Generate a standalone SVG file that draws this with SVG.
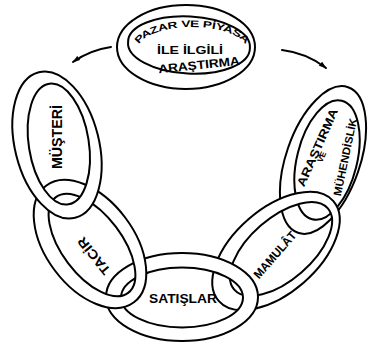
<svg xmlns="http://www.w3.org/2000/svg" width="368" height="343" viewBox="0 0 368 343">
<style>
.ring{fill:#fff;fill-rule:evenodd;stroke:#000;stroke-width:2;stroke-linejoin:round}
.arr{fill:none;stroke:#000;stroke-width:2;stroke-linecap:round}
text{font-family:"Liberation Sans",Arial,sans-serif;font-weight:bold;fill:#000;dominant-baseline:central;text-anchor:middle}
</style>
<defs>
<marker id="ah" markerUnits="userSpaceOnUse" markerWidth="9" markerHeight="6" refX="7" refY="3" orient="auto">
<path d="M0,0.5 L8,3 L0,5.5 Z" fill="#000"/>
</marker>
<path id="arcTop" d="M134,48 A58,25 0 0 1 250,48"/>
</defs>
<g id="connectors">
<path class="arr" d="M111,47 Q90,50 73,62" marker-end="url(#ah)"/>
<path class="arr" d="M282,50 Q307,53 326,68" marker-end="url(#ah)"/>
</g>
<g id="pazar">
<path class="ring" d="M117,47 A69,42 0 1 0 255,47 A69,42 0 1 0 117,47 Z M128.1,41.8 A61,28 3 1 0 249.9,48.2 A61,28 3 1 0 128.1,41.8 Z"/>
<text font-size="9.5"><textPath href="#arcTop" startOffset="50%" textLength="122" lengthAdjust="spacingAndGlyphs">PAZAR VE PİYASA</textPath></text>
<text x="190" y="50" font-size="10.5" textLength="66" lengthAdjust="spacingAndGlyphs">İLE İLGİLİ</text>
<text transform="translate(199,65) rotate(-6)" font-size="12" textLength="82" lengthAdjust="spacingAndGlyphs">ARAŞTIRMA</text>
</g>
<g id="arastirma" transform="translate(323,160) rotate(19)">
<path class="ring" d="M-37,0 A37,77 0 1 0 37,0 A37,77 0 1 0 -37,0 Z M-26.1,1.3 A30,61 -5 1 0 33.7,-3.9 A30,61 -5 1 0 -26.1,1.3 Z"/>
</g>
<g id="arastirma-text">
<text transform="translate(317.5,147.5) rotate(-66)" font-size="12" textLength="84" lengthAdjust="spacingAndGlyphs">ARAŞTIRMA</text>
<text transform="translate(322,157) rotate(-66)" font-size="8">VE</text>
<text transform="translate(345,157) rotate(-78)" font-size="11" textLength="79" lengthAdjust="spacingAndGlyphs">MÜHENDİSLİK</text>
</g>
<g id="mamulat">
<path class="ring" transform="translate(276,251) rotate(49)" d="M-42,0 A42,76 0 1 0 42,0 A42,76 0 1 0 -42,0 Z M-29.2,-5.1 A31,62 0 1 0 32.8,-5.1 A31,62 0 1 0 -29.2,-5.1 Z"/>
<text transform="translate(275,255) rotate(-49)" font-size="12" textLength="58" lengthAdjust="spacingAndGlyphs">MAMULÂT</text>
</g>
<g id="satislar">
<path class="ring" d="M106,297 A76,44 0 1 0 258,297 A76,44 0 1 0 106,297 Z M121,297.5 A61,30 0 1 0 243,297.5 A61,30 0 1 0 121,297.5 Z"/>
<text x="183" y="298" font-size="13" textLength="68" lengthAdjust="spacingAndGlyphs">SATIŞLAR</text>
</g>
<g id="tacir">
<path class="ring" transform="translate(90,244) rotate(-37)" d="M-44,0 A44,73 0 1 0 44,0 A44,73 0 1 0 -44,0 Z M-29,2 A30,60 0 1 0 31,2 A30,60 0 1 0 -29,2 Z"/>
<text transform="translate(94,256) rotate(231)" font-size="13" textLength="44" lengthAdjust="spacingAndGlyphs">TACİR</text>
</g>
<g id="musteri">
<path class="ring" transform="translate(57,145) rotate(-14)" d="M-42,0 A42,75 0 1 0 42,0 A42,75 0 1 0 -42,0 Z M-27.9,-3.1 A30,61 5 1 0 31.9,2.1 A30,61 5 1 0 -27.9,-3.1 Z"/>
<text transform="translate(57,137) rotate(-90)" font-size="14" textLength="64" lengthAdjust="spacingAndGlyphs">MÜŞTERİ</text>
</g>
</svg>
